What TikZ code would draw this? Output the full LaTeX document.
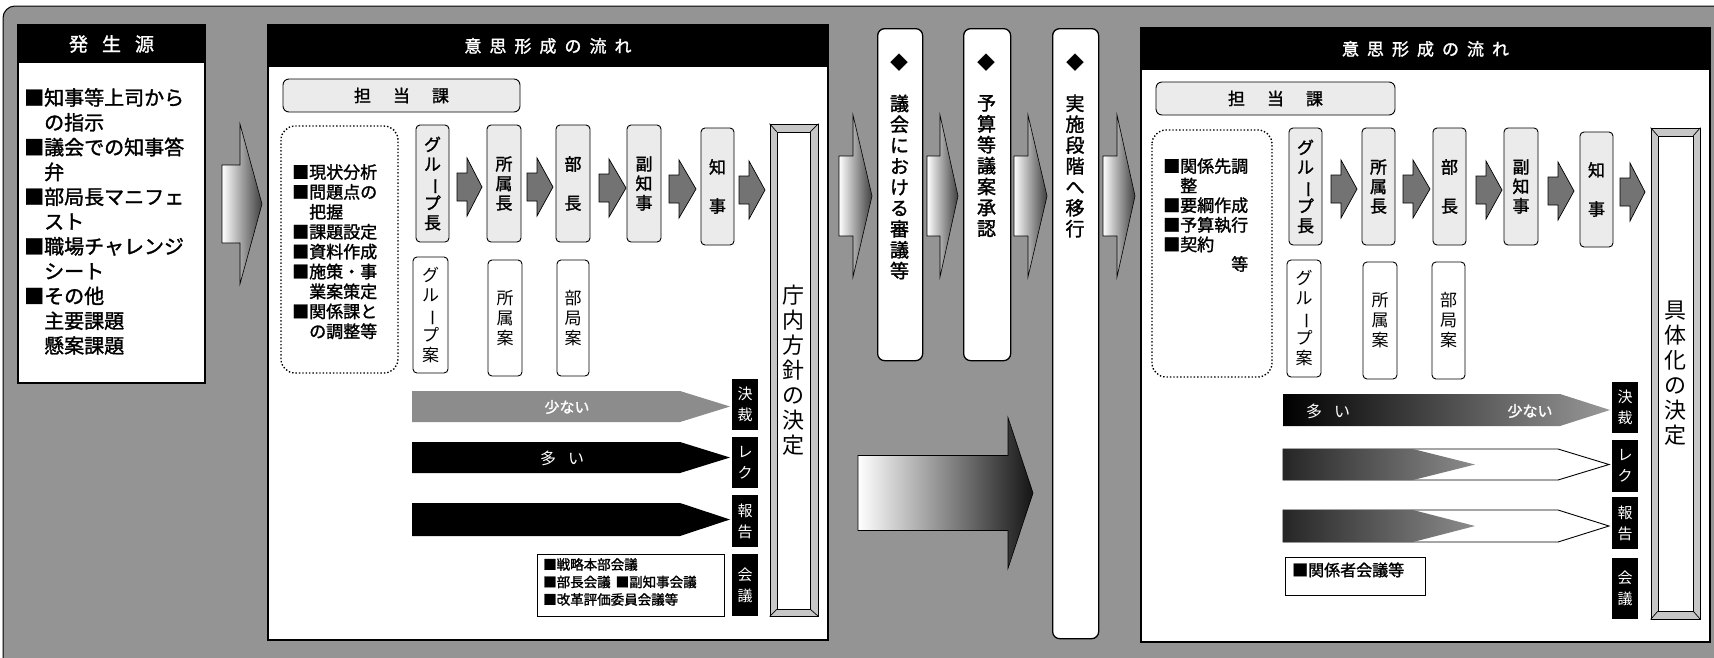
\documentclass[tikz,border=0pt]{standalone}
\usepackage{fontspec}
\newfontfamily\jp{Noto Sans CJK JP}
\newfontfamily\jpb{Noto Sans CJK JP}[FakeBold=1.5]
\newcommand\vbar{\rotatebox[origin=c]{-90}{ー}}
\newcommand\gapp[1]{\hspace{#1pt}}
\newcommand\blockarr[7]{\path[#1] (#2,#5-#6) -- (#3,#5-#6) -- (#3,#5-#7) -- (#4,#5) -- (#3,#5+#7) -- (#3,#5+#6) -- (#2,#5+#6) -- cycle;}
\newcommand\pentarr[6]{\path[#1] (#2,#5) -- (#3,#5) -- (#4,{(#5+#6)/2}) -- (#3,#6) -- (#2,#6) -- cycle;}
\tikzset{
  panel/.style={draw=black, line width=1.3pt, fill=white, inner sep=0pt, outer sep=0pt, anchor=north west},
  hdr/.style={fill=black, text=white, inner sep=0pt, outer sep=0pt, anchor=north west},
  role/.style={draw=black, line width=0.9pt, rounded corners=4pt, fill=black!8, inner sep=0pt, align=center, font=\jpb\fontsize{17}{19.5}\selectfont},
  plan/.style={role, fill=white, font=\jp\fontsize{17}{20}\selectfont},
  tagbox/.style={fill=black, text=white, inner sep=0pt, minimum width=26pt, align=center, font=\jp\fontsize{15}{21}\selectfont},
  col/.style={draw=black, line width=1.3pt, rounded corners=7pt, fill=white, inner sep=0pt, anchor=north west},
  tanto/.style={draw=black, line width=0.9pt, rounded corners=6pt, fill=black!8, inner sep=0pt, font=\jpb\fontsize{17}{20}\selectfont},
  dotbox/.style={draw=black, dotted, line width=1.4pt, rounded corners=14pt},
  smallarrow/.style={draw=black, line width=0.7pt, fill=black!55},
  grad/.style={draw=black, line width=0.6pt, left color=white, right color=black!75},
  bevel/.style={draw=black, line width=0.9pt, fill=black!22, inner sep=0pt},
  inner/.style={draw=black, line width=0.7pt, fill=white, inner sep=0pt, align=center, font=\jp\fontsize{22}{25}\selectfont},
  vtxt/.style={align=center, inner sep=0pt, font=\jpb\fontsize{19}{20.9}\selectfont},
  list/.style={anchor=north west, align=left, inner sep=0pt},
}
\begin{document}
\begin{tikzpicture}[x=1pt,y=-1pt]
\useasboundingbox (0,0) rectangle (1714,657);
\clip (0,0) rectangle (1714,657);
% background
\draw[fill=black!42, line width=1pt, rounded corners=12pt] (3,6) rectangle (1740,680);

% ---------------- left panel ----------------
\node[panel, minimum width=187, minimum height=358] (srcp) at (18,25) {};
\node[hdr, minimum width=187, minimum height=38, font=\jpb\fontsize{19}{20}\selectfont] (srch) at (18,25) {発\gapp{14}生\gapp{14}源};
\node[list, font=\jpb\fontsize{20}{24.8}\selectfont] (srct) at (24,88) {■知事等上司から\\　の指示\\■議会での知事答\\　弁\\■部局長マニフェ\\　スト\\■職場チャレンジ\\　シート\\■その他\\　主要課題\\　懸案課題};

% ---------------- middle panel ----------------
\node[panel, minimum width=560, minimum height=615] (midp) at (268,25) {};
\node[hdr, minimum width=560, minimum height=42, font=\jpb\fontsize{17}{20}\selectfont] (midh) at (268,25) {意\gapp{8}思\gapp{8}形\gapp{8}成\gapp{8}の\gapp{8}流\gapp{8}れ};
\node[tanto, minimum width=237, minimum height=33] (tt1) at (401.5,95.5) {担\gapp{22}当\gapp{22}課};
\draw[dotbox] (281,126) rectangle (398,373);
\node[list, font=\jpb\fontsize{17}{19.9}\selectfont] (tk1) at (292,164) {■現状分析\\■問題点の\\　把握\\■課題設定\\■資料作成\\■施策・事\\　業案策定\\■関係課と\\　の調整等};

\node[role, minimum width=33, minimum height=117] (g1) at (432.5,183.5) {グ\\ル\\\vbar\\プ\\長};
\node[role, minimum width=34, minimum height=117] (s1) at (504,183.5) {所\\属\\長};
\node[role, minimum width=34, minimum height=117] (b1) at (573,183.5) {部\\[19.5pt]長};
\node[role, minimum width=34, minimum height=117] (f1) at (644,183.5) {副\\知\\事};
\node[role, minimum width=33, minimum height=117] (c1) at (717.5,186.5) {知\\[19.5pt]事};

\node[plan, minimum width=35, minimum height=116] (gp1) at (430.5,315) {グ\\ル\\\vbar\\プ\\案};
\node[plan, minimum width=34, minimum height=116] (sp1) at (505,318) {所\\属\\案};
\node[plan, minimum width=32, minimum height=116] (bp1) at (573,318) {部\\局\\案};

\blockarr{smallarrow}{457}{467}{482}{187}{14}{29}
\blockarr{smallarrow}{527}{537}{553}{187}{14}{29}
\blockarr{smallarrow}{599}{609}{626}{188}{14}{29}
\blockarr{smallarrow}{669}{679}{696}{189}{14}{29}
\blockarr{smallarrow}{739}{749}{765}{190}{14}{29}

\node[bevel, minimum width=48, minimum height=492] (hqo) at (794,370) {};
\node[inner, minimum width=33, minimum height=477] (hq) at (793.5,370.5) {庁\\内\\方\\針\\の\\決\\定};
\draw[line width=0.7pt] (hqo.north west) -- (hq.north west) (hqo.north east) -- (hq.north east) (hqo.south west) -- (hq.south west) (hqo.south east) -- (hq.south east);

\pentarr{fill=black!45}{412}{680}{730}{391}{422}
\pentarr{fill=black}{412}{680}{730}{442}{473}
\pentarr{fill=black}{412}{680}{730}{503}{536}
\node[text=white, font=\jpb\fontsize{15}{16}\selectfont, inner sep=0pt] (few1) at (567,407) {少ない};
\node[text=white, font=\jp\fontsize{16}{16}\selectfont, inner sep=0pt] (many1) at (562,458) {多\gapp{12}い};

\node[tagbox, minimum height=51] (k1) at (745,404.5) {決\\裁};
\node[tagbox, minimum height=51] (r1) at (745,462.5) {レ\\ク};
\node[tagbox, minimum height=52] (h1) at (745,521) {報\\告};
\node[tagbox, minimum height=62] (m1) at (745,585) {会\\議};
\node[draw=black, line width=1pt, minimum width=187, minimum height=62, inner sep=0pt] (conf1) at (630.5,585) {};
\node[list, font=\jpb\fontsize{13.5}{17.5}\selectfont] (conft) at (543,558) {■戦略本部会議\\■部長会議\gapp{5}■副知事会議\\■改革評価委員会議等};

% ---------------- central columns ----------------
\node[col, minimum width=45, minimum height=332] (gikai) at (877,28) {};
\node[col, minimum width=47, minimum height=332] (yosan) at (963,28) {};
\node[col, minimum width=46, minimum height=610] (jissi) at (1052,28) {};
\node[font=\jp\fontsize{18}{18}\selectfont, inner sep=0pt] (d1) at (899.5,63) {◆};
\node[font=\jp\fontsize{18}{18}\selectfont, inner sep=0pt] (d2) at (986.5,63) {◆};
\node[font=\jp\fontsize{18}{18}\selectfont, inner sep=0pt] (d3) at (1075,63) {◆};
\node[vtxt] (gt) at (899.5,187) {議\\会\\に\\お\\け\\る\\審\\議\\等};
\node[vtxt] (yt) at (986.5,166) {予\\算\\等\\議\\案\\承\\認};
\node[vtxt] (jt) at (1075,166) {実\\施\\段\\階\\へ\\移\\行};

\blockarr{grad}{222}{240}{262}{204}{39}{80}
\blockarr{grad}{839}{853}{872}{196}{40}{81}
\blockarr{grad}{927}{940}{958}{196}{40}{81}
\blockarr{grad}{1014}{1028}{1047}{196}{40}{81}
\blockarr{grad}{1103}{1117}{1135}{196}{40}{81}
\blockarr{draw=black, line width=0.6pt, left color=white, right color=black!92}{858}{1008}{1033}{493}{37.5}{75.5}

% ---------------- right panel ----------------
\node[panel, minimum width=569, minimum height=614] (rp) at (1141,28) {};
\node[hdr, minimum width=569, minimum height=42, font=\jpb\fontsize{17}{20}\selectfont] (rh) at (1141,28) {意\gapp{8}思\gapp{8}形\gapp{8}成\gapp{8}の\gapp{8}流\gapp{8}れ};
\node[tanto, minimum width=239, minimum height=33] (tt2) at (1275.5,98.5) {担\gapp{22}当\gapp{22}課};
\draw[dotbox] (1152,130) rectangle (1272,377);
\node[list, font=\jpb\fontsize{17}{19.6}\selectfont] (tk2) at (1163,158) {■関係先調\\　整\\■要綱作成\\■予算執行\\■契約\\　　　　等};

\node[role, minimum width=33, minimum height=117] (g2) at (1305.5,186.5) {グ\\ル\\\vbar\\プ\\長};
\node[role, minimum width=33, minimum height=117] (s2) at (1378.5,186.5) {所\\属\\長};
\node[role, minimum width=33, minimum height=117] (b2) at (1449.5,186.5) {部\\[19.5pt]長};
\node[role, minimum width=34, minimum height=117] (f2) at (1521,186.5) {副\\知\\事};
\node[role, minimum width=33, minimum height=115] (c2) at (1596.5,189.5) {知\\[19.5pt]事};

\node[plan, minimum width=34, minimum height=117] (gp2) at (1304,318.5) {グ\\ル\\\vbar\\プ\\案};
\node[plan, minimum width=34, minimum height=117] (sp2) at (1380,320.5) {所\\属\\案};
\node[plan, minimum width=33, minimum height=117] (bp2) at (1448.5,320.5) {部\\局\\案};

\blockarr{smallarrow}{1331}{1341}{1357}{189}{14}{29}
\blockarr{smallarrow}{1403}{1413}{1430}{189}{14}{29}
\blockarr{smallarrow}{1476}{1486}{1502}{190}{14}{29}
\blockarr{smallarrow}{1548}{1558}{1574}{191}{14}{29}
\blockarr{smallarrow}{1620}{1630}{1645}{192}{14}{29}

\node[bevel, minimum width=49, minimum height=491] (spo) at (1675.5,373.5) {};
\node[inner, minimum width=35, minimum height=475] (sp) at (1675.5,373.5) {具\\体\\化\\の\\決\\定};
\draw[line width=0.7pt] (spo.north west) -- (sp.north west) (spo.north east) -- (sp.north east) (spo.south west) -- (sp.south west) (spo.south east) -- (sp.south east);

\pentarr{left color=black, middle color=black!72, right color=black!40}{1283}{1560}{1610}{394}{426}
\pentarr{draw=black, line width=0.9pt, fill=white}{1283}{1558}{1609}{449}{480}
\pentarr{left color=black!85, right color=black!45}{1283}{1413}{1475}{449}{480}
\pentarr{draw=black, line width=0.9pt, fill=white}{1283}{1558}{1609}{510}{542}
\pentarr{left color=black!85, right color=black!45}{1283}{1413}{1475}{510}{542}
\node[text=white, font=\jp\fontsize{16}{16}\selectfont, inner sep=0pt] (many2) at (1328,411) {多\gapp{12}い};
\node[text=white, font=\jpb\fontsize{15}{16}\selectfont, inner sep=0pt] (few2) at (1530,411) {少ない};

\node[tagbox, minimum height=51] (k2) at (1625,407.5) {決\\裁};
\node[tagbox, minimum height=52] (r2) at (1625,466) {レ\\ク};
\node[tagbox, minimum height=52] (h2) at (1625,523) {報\\告};
\node[tagbox, minimum height=61] (m2) at (1625,588.5) {会\\議};
\node[draw=black, line width=1pt, minimum width=140, minimum height=38, inner sep=0pt] (conf2) at (1355,576) {};
\node[anchor=west, inner sep=0pt, font=\jpb\fontsize{16}{18}\selectfont] (conf2t) at (1292,570) {■関係者会議等};
\end{tikzpicture}
\end{document}
